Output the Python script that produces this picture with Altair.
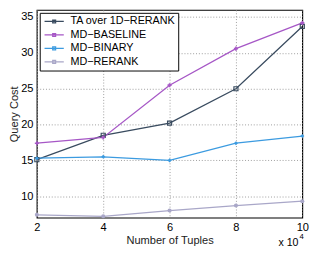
import altair as alt
import pandas as pd

tuples = [2, 4, 6, 8, 10]
series_names = ["TA over 1D\u2212RERANK", "MD\u2212BASELINE", "MD\u2212BINARY", "MD\u2212RERANK"]
ta_rerank = [15.1, 18.5, 20.2, 25.0, 33.7]
md_baseline = [17.4, 18.2, 25.5, 30.6, 34.2]
md_binary = [15.3, 15.5, 15.0, 17.4, 18.4]
md_rerank = [7.4, 7.2, 8.0, 8.7, 9.3]
colors = ["#394b5f", "#a657c6", "#3c9be0", "#a9a7c8"]
shapes = ["square", "cross", "diamond", "circle"]
y_ticks = [10, 15, 20, 25, 30, 35]

rows = []
for name, vals in zip(series_names, [ta_rerank, md_baseline, md_binary, md_rerank]):
    for t, v in zip(tuples, vals):
        rows.append({"tuples": t, "cost": v, "series": name})
df = pd.DataFrame(rows)

FONT = "Liberation Sans"

x = alt.X("tuples:Q", scale=alt.Scale(domain=[2, 10], nice=False),
          axis=alt.Axis(values=tuples, title="Number of Tuples", format="d",
                        grid=True, gridDash=[1, 2], gridColor="#999999",
                        domain=False, ticks=False, labelPadding=4,
                        titlePadding=2, labelFlush=False))
y = alt.Y("cost:Q", scale=alt.Scale(domain=[7, 36], nice=False, zero=False),
          axis=alt.Axis(values=y_ticks, title="Query Cost",
                        grid=True, gridDash=[1, 2], gridColor="#999999",
                        domain=False, ticks=False, labelPadding=4,
                        titlePadding=1))
color = alt.Color("series:N", sort=series_names,
                  scale=alt.Scale(domain=series_names, range=colors),
                  legend=alt.Legend(title=None, orient="top-left", offset=3,
                                    strokeColor="black", fillColor="white",
                                    padding=3, rowPadding=2,
                                    symbolType="M-2,0H2M-0.3,-0.3H0.3V0.3H-0.3Z",
                                    symbolSize=100, symbolStrokeWidth=1.3,
                                    symbolOffset=6,
                                    labelFontSize=11.2, labelFont=FONT,
                                    labelColor="black", labelOffset=11))

lines = alt.Chart(df).mark_line(strokeWidth=1.3).encode(x=x, y=y, color=color)

point_layers = []
for name, col, shp in zip(series_names, colors, shapes):
    point_layers.append(
        alt.Chart(df).transform_filter(alt.datum.series == name)
        .mark_point(size=18, filled=(shp != "square"), strokeWidth=1.2, shape=shp, color=col,
                    opacity=1)
        .encode(x=x, y=y)
    )

note = alt.Chart(pd.DataFrame({"t": ["x 10"]})).mark_text(
    fontSize=11, font=FONT, color="black", align="right", baseline="middle"
).encode(text="t:N", x=alt.value(272), y=alt.value(242))
note_exp = alt.Chart(pd.DataFrame({"t": ["4"]})).mark_text(
    fontSize=8, font=FONT, color="black", align="left", baseline="middle"
).encode(text="t:N", x=alt.value(273), y=alt.value(236))

chart = alt.layer(lines, *point_layers, note, note_exp).properties(
    width=276, height=216,
    autosize=alt.AutoSizeParams(type="none"),
    padding={"left": 30, "top": -3, "right": 8, "bottom": 40},
).configure_view(stroke="black", strokeWidth=1.2).configure_axis(
    labelFont=FONT, titleFont=FONT, labelFontSize=11.5, titleFontSize=11.5,
    labelColor="black", titleColor="#222222", titleFontWeight="normal"
)

chart.save("out.html", embed_options={"renderer": "svg", "actions": False})
